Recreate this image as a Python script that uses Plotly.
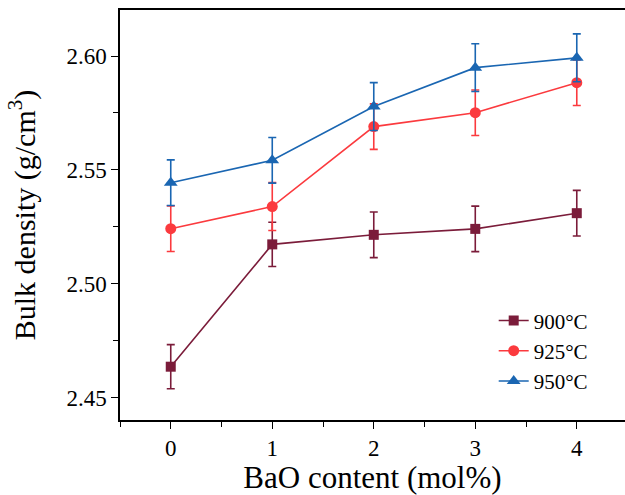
import plotly.graph_objects as go

bao = [0, 1, 2, 3, 4]
d900 = [2.4636, 2.5173, 2.5215, 2.5241, 2.5310]
d925 = [2.5242, 2.5339, 2.5690, 2.5751, 2.5883]
d950 = [2.5444, 2.5542, 2.5778, 2.5949, 2.5992]
err900 = [0.0097, 0.0097, 0.0100, 0.0100, 0.0100]
err925 = [0.0100, 0.0105, 0.0100, 0.0100, 0.0100]
err950 = [0.0100, 0.0100, 0.0105, 0.0105, 0.0105]
names = ["900°C", "925°C", "950°C"]
colors = ["#7b1c3a", "#fb3a3e", "#1a66b2"]
symbols = ["square", "circle", "triangle-up"]
sizes = [10, 11, 12]

fig = go.Figure()
for y, e, n, c, s, sz in zip([d900, d925, d950], [err900, err925, err950], names, colors, symbols, sizes):
    fig.add_trace(go.Scatter(
        x=bao, y=y, name=n, mode="lines+markers",
        line=dict(color=c, width=1.6),
        marker=dict(symbol=s, size=sz, color=c),
        error_y=dict(type="data", array=e, visible=True, color=c, thickness=1.6, width=4),
    ))

font_family = "Liberation Serif, Times New Roman, serif"
fig.update_layout(
    width=625, height=495,
    margin=dict(l=120, r=0, t=10, b=75),
    paper_bgcolor="white", plot_bgcolor="white",
    font=dict(family=font_family, color="black"),
    showlegend=True,
    legend=dict(x=0.74, y=0.292, xanchor="left", yanchor="top",
                font=dict(size=21, family=font_family), bgcolor="rgba(0,0,0,0)"),
)
fig.update_xaxes(
    range=[-0.5, 4.475], tickvals=bao, ticktext=[str(v) for v in bao],
    showline=True, linecolor="black", linewidth=1.5, mirror=True,
    ticks="outside", ticklen=7, tickwidth=1.3, tickcolor="black",
    minor=dict(ticks="outside", ticklen=5, tickwidth=1.3, tickcolor="black", dtick=0.5, tick0=0),
    showgrid=False, zeroline=False,
    tickfont=dict(size=23),
    title=dict(text="BaO content (mol%)", font=dict(size=31), standoff=4),
)
fig.update_yaxes(
    range=[2.4402, 2.6202], tickvals=[2.45, 2.50, 2.55, 2.60], tickformat=".2f",
    showline=True, linecolor="black", linewidth=1.5, mirror=False,
    ticks="outside", ticklen=7, tickwidth=1.3, tickcolor="black",
    minor=dict(ticks="outside", ticklen=5, tickwidth=1.3, tickcolor="black", dtick=0.025, tick0=2.45),
    showgrid=False, zeroline=False,
    tickfont=dict(size=23),
    title=dict(text="Bulk density (g/cm<sup>3</sup>)", font=dict(size=30), standoff=22),
)
fig.write_html("out.html")
